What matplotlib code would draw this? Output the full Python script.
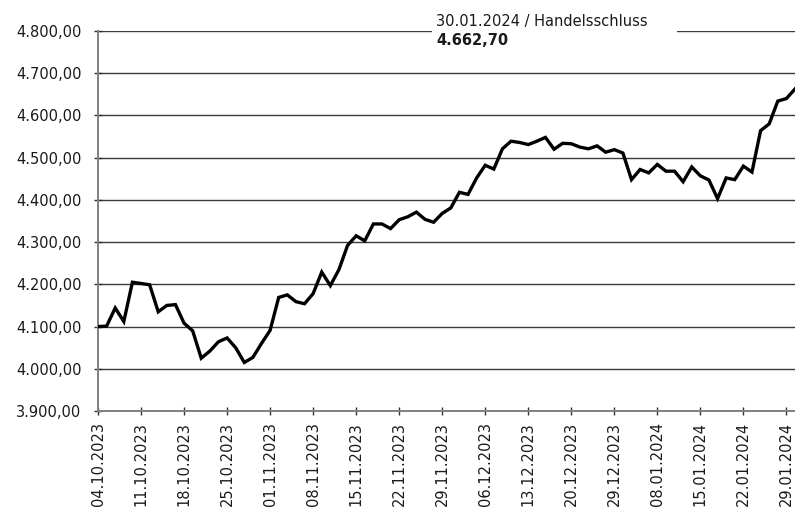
#!/usr/bin/env python3
"""Index line chart, 04.10.2023 - 30.01.2024, saved as out.png."""
import matplotlib

matplotlib.use("Agg")
import matplotlib.pyplot as plt
import pandas as pd
from matplotlib.patches import Rectangle
from matplotlib.ticker import FixedLocator, FuncFormatter

START = "2023-10-04"
END = "2024-01-30"
HOLIDAYS = ["2023-12-25", "2023-12-26", "2024-01-01"]

# closing levels per trading day
closes = [
    4100, 4101, 4144, 4112, 4205, 4202, 4199, 4135, 4150, 4152,
    4108, 4090, 4025, 4042, 4064, 4073, 4050, 4015, 4027, 4060,
    4091, 4169, 4175, 4159, 4154, 4178, 4229, 4197, 4235, 4292,
    4315, 4303, 4343, 4343, 4332, 4353, 4360, 4371, 4354, 4347,
    4368, 4381, 4418, 4413, 4452, 4482, 4473, 4521, 4539, 4536,
    4531, 4539, 4548, 4520, 4534, 4533, 4525, 4521, 4528, 4513,
    4519, 4511, 4448, 4472, 4464, 4484, 4468, 4468, 4443, 4478,
    4457, 4447, 4403, 4452, 4448, 4480, 4466, 4564, 4580, 4634,
    4640, 4662.70,
]
y_ticks = [3900, 4000, 4100, 4200, 4300, 4400, 4500, 4600, 4700, 4800]
label_every = 5
note_title = "30.01.2024 / Handelsschluss"

TEXT = "#1a1a1a"
AXIS = "#808080"


def de_number(v, _pos=None):
    s = f"{v:,.2f}"
    return s.replace(",", "X").replace(".", ",").replace("X", ".")


def main():
    days = pd.bdate_range(START, END)
    days = days[~days.isin(pd.to_datetime(HOLIDAYS))]
    x = list(range(len(days)))

    plt.rcParams["font.family"] = "DejaVu Sans"
    fig = plt.figure(figsize=(7.95, 5.12), dpi=100)
    ax = fig.add_axes([98 / 795, 101 / 512, 697 / 795, 380 / 512])

    ax.plot(x, closes, color="black", lw=2.4, solid_joinstyle="miter", zorder=3)

    ax.set_xlim(0, len(days) - 1)
    ax.set_ylim(y_ticks[0], y_ticks[-1])
    ax.yaxis.set_major_locator(FixedLocator(y_ticks))
    ax.yaxis.set_major_formatter(FuncFormatter(de_number))
    tick_idx = x[::label_every]
    ax.set_xticks(tick_idx)
    ax.set_xticklabels([days[i].strftime("%d.%m.%Y") for i in tick_idx], rotation=90)

    ax.grid(axis="y", color="#3a3a3a", lw=1.0)
    ax.grid(axis="x", visible=False)
    ax.set_axisbelow(True)
    for side in ("top", "right"):
        ax.spines[side].set_visible(False)
    for side in ("left", "bottom"):
        ax.spines[side].set_color(AXIS)
        ax.spines[side].set_linewidth(1.4)

    ax.tick_params(axis="both", direction="inout", length=6, width=1.0,
                   color="#303030", labelsize=10.5, labelcolor=TEXT)
    ax.tick_params(axis="y", pad=9)
    ax.tick_params(axis="x", pad=5)

    # white box breaking the top grid line, with the closing note
    fig.add_artist(Rectangle((432 / 795, 462 / 512), 245 / 795, 42 / 512,
                             transform=fig.transFigure, facecolor="white",
                             edgecolor="none", zorder=2))
    fig.text(436 / 795, 1 - 26 / 512, note_title, fontsize=10.5, color=TEXT,
             ha="left", va="baseline", zorder=4)
    fig.text(436 / 795, 1 - 45 / 512, de_number(closes[-1]), fontsize=10.5,
             fontweight="bold", color=TEXT, ha="left", va="baseline", zorder=4)

    fig.savefig("out.png", dpi=100)
    plt.close(fig)


if __name__ == "__main__":
    main()
